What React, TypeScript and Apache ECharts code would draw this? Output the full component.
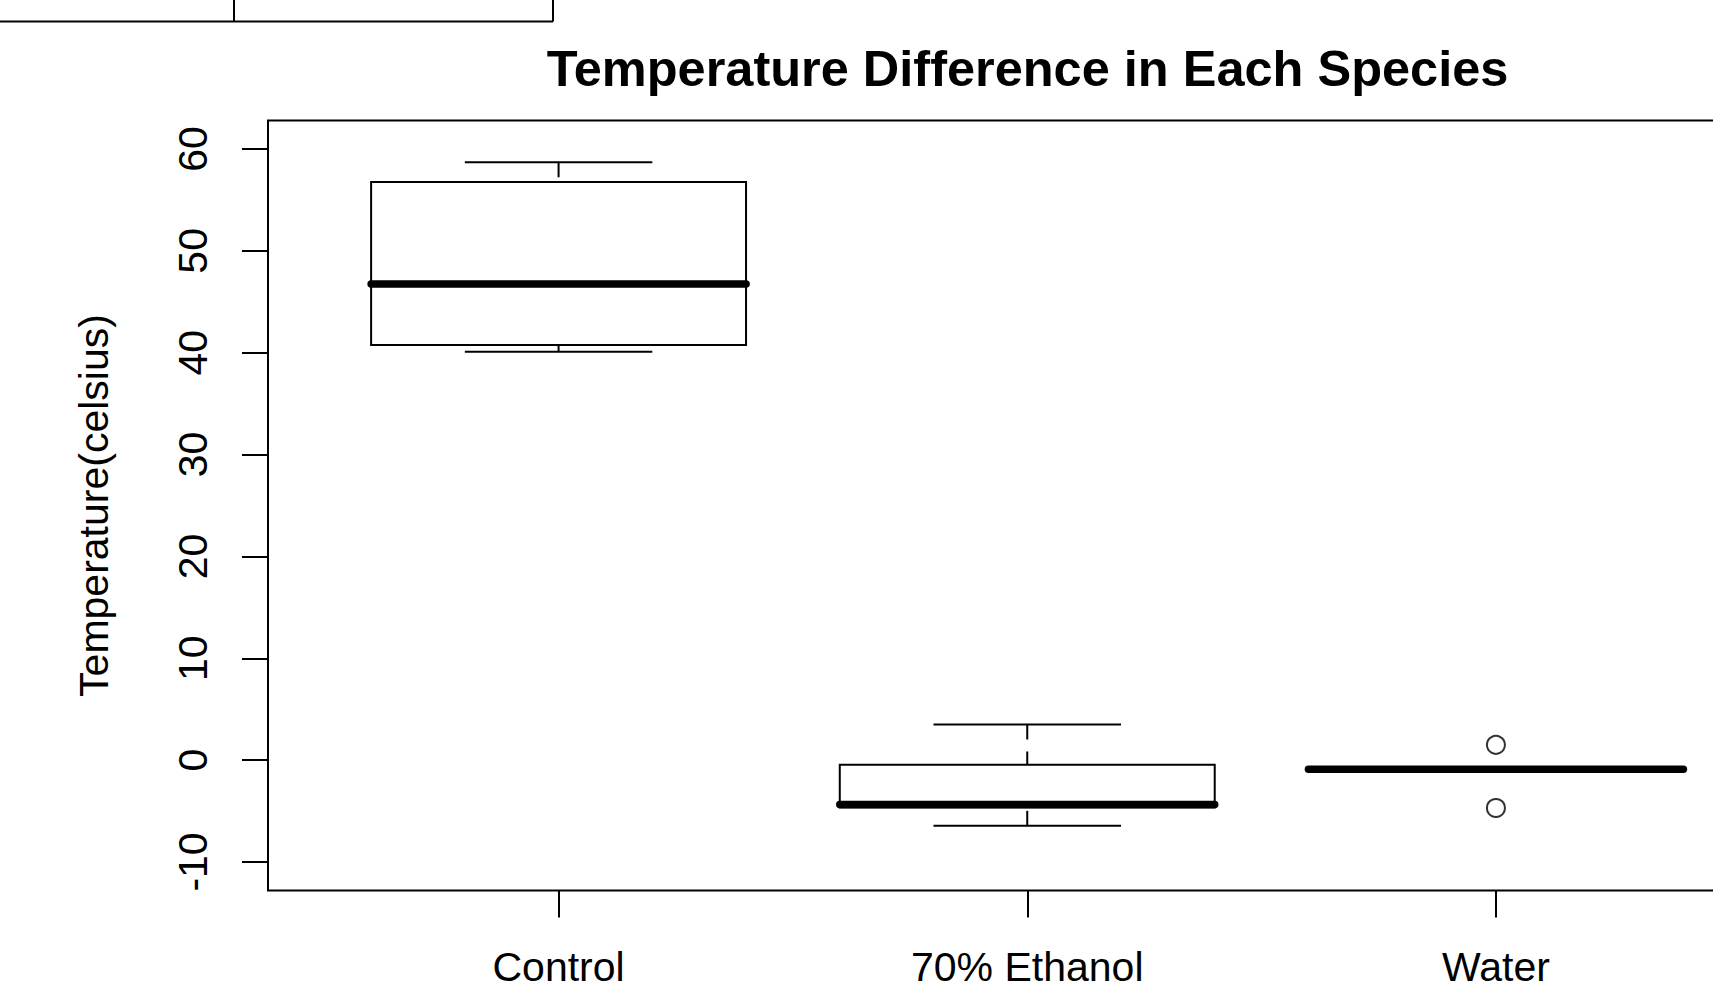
import React, { useEffect, useRef } from "react";
import * as echarts from "echarts";

// ---- data ----
const categories = ["Control", "70% Ethanol", "Water"];
const whiskerLow = [40.1, -6.45, -0.9];
const quartile1 = [40.75, -4.65, -0.9];
const medians = [46.75, -4.35, -0.9];
const quartile3 = [56.75, -0.45, -0.9];
const whiskerHigh = [58.7, 3.5, -0.9];
const outlierGroup = [3, 3];
const outlierValues = [1.5, -4.7];
const yTicks = [-10, 0, 10, 20, 30, 40, 50, 60];
const xPositions = [1, 2, 3];

const FONT = "'Liberation Sans', Arial, Helvetica, sans-serif";

export default function App() {
  const ref = useRef<HTMLDivElement>(null);

  useEffect(() => {
    if (!ref.current) return;
    const chart = echarts.init(ref.current, null, { renderer: "svg" });

    const boxData = categories.map((_, i) => [
      xPositions[i],
      whiskerLow[i],
      quartile1[i],
      medians[i],
      quartile3[i],
      whiskerHigh[i],
    ]);
    const outlierData = outlierValues.map((v, i) => [outlierGroup[i], v]);

    const black = "#000";

    const option: any = {
      animation: false,
      backgroundColor: "#fff",
      title: {
        text: "Temperature Difference in Each Species",
        left: 1027.5,
        textAlign: "center",
        top: 43,
        padding: 0,
        textStyle: {
          fontFamily: FONT,
          fontWeight: "bold",
          fontSize: 50.5,
          color: black,
        },
      },
      grid: {
        left: 268,
        top: 120.5,
        right: 13.5,
        bottom: 91.5,
        show: true,
        borderColor: black,
        borderWidth: 2,
        backgroundColor: "transparent",
        containLabel: false,
        outerBoundsMode: "none",
      },
      xAxis: {
        type: "value",
        min: 0.38,
        max: 3.62,
        splitLine: { show: false },
        axisLine: { show: false, onZero: false },
        axisTick: {
          show: true,
          inside: false,
          length: 27,
          customValues: xPositions,
          lineStyle: { color: black, width: 2 },
        },
        axisLabel: {
          show: true,
          customValues: xPositions,
          formatter: (v: number) => categories[Math.round(v) - 1] ?? "",
          fontFamily: FONT,
          fontSize: 41,
          color: black,
          margin: 56,
        },
      },
      yAxis: {
        type: "value",
        min: -12.8,
        max: 62.8,
        splitLine: { show: false },
        axisLine: { show: false, onZero: false },
        axisTick: {
          show: true,
          inside: false,
          length: 26,
          customValues: yTicks,
          lineStyle: { color: black, width: 2 },
        },
        axisLabel: {
          show: true,
          customValues: yTicks,
          rotate: 90,
          fontFamily: FONT,
          fontSize: 41,
          color: black,
          margin: 55,
        },
        name: "Temperature(celsius)",
        nameLocation: "middle",
        nameRotate: 90,
        nameGap: 154,
        nameTextStyle: {
          fontFamily: FONT,
          fontSize: 41,
          color: black,
        },
      },
      graphic: [
        {
          type: "line",
          shape: { x1: -5, y1: 21.5, x2: 553, y2: 21.5 },
          style: { stroke: black, lineWidth: 2 },
        },
        {
          type: "line",
          shape: { x1: 234, y1: -5, x2: 234, y2: 21.5 },
          style: { stroke: black, lineWidth: 2 },
        },
        {
          type: "line",
          shape: { x1: 553, y1: -5, x2: 553, y2: 21.5 },
          style: { stroke: black, lineWidth: 2 },
        },
      ],
      series: [
        {
          type: "custom",
          name: "box",
          data: boxData,
          encode: { x: 0, y: [1, 2, 3, 4, 5] },
          renderItem: (params: any, api: any) => {
            const x = api.value(0);
            const mn = api.value(1);
            const q1 = api.value(2);
            const md = api.value(3);
            const q3 = api.value(4);
            const mx = api.value(5);
            const half = api.size([0.8, 0])[0] / 2;
            const staple = half / 2;
            const pMin = api.coord([x, mn]);
            const pQ1 = api.coord([x, q1]);
            const pMd = api.coord([x, md]);
            const pQ3 = api.coord([x, q3]);
            const pMax = api.coord([x, mx]);
            const cx = pMd[0];
            const lineStyle = { stroke: black, lineWidth: 2, fill: null };
            return {
              type: "group",
              children: [
                {
                  type: "line",
                  shape: { x1: cx, y1: pMax[1], x2: cx, y2: pQ3[1] },
                  style: { ...lineStyle, lineDash: [15, 12] },
                },
                {
                  type: "line",
                  shape: { x1: cx, y1: pMin[1], x2: cx, y2: pQ1[1] },
                  style: { ...lineStyle, lineDash: [15, 12] },
                },
                {
                  type: "line",
                  shape: { x1: cx - staple, y1: pMax[1], x2: cx + staple, y2: pMax[1] },
                  style: lineStyle,
                },
                {
                  type: "line",
                  shape: { x1: cx - staple, y1: pMin[1], x2: cx + staple, y2: pMin[1] },
                  style: lineStyle,
                },
                {
                  type: "polygon",
                  shape: {
                    points: [
                      [cx - half, pQ3[1]],
                      [cx + half, pQ3[1]],
                      [cx + half, pQ1[1]],
                      [cx - half, pQ1[1]],
                    ],
                  },
                  style: { stroke: black, lineWidth: 2, fill: "none" },
                },
                {
                  type: "line",
                  shape: { x1: cx - half, y1: pMd[1], x2: cx + half, y2: pMd[1] },
                  style: { stroke: black, lineWidth: 7.5, lineCap: "round" },
                },
              ],
            };
          },
          z: 3,
        },
        {
          type: "scatter",
          name: "outliers",
          data: outlierData,
          symbol: "circle",
          symbolSize: 18,
          itemStyle: {
            color: "transparent",
            borderColor: black,
            borderWidth: 2,
          },
          z: 4,
        },
      ],
    };

    chart.setOption(option);
    return () => chart.dispose();
  }, []);

  return (
    <div
      style={{
        position: "fixed",
        left: 0,
        top: 0,
        width: 1713,
        height: 982,
        overflow: "hidden",
        background: "#fff",
      }}
    >
      <div ref={ref} style={{ width: 1800, height: 982 }} />
    </div>
  );
}
